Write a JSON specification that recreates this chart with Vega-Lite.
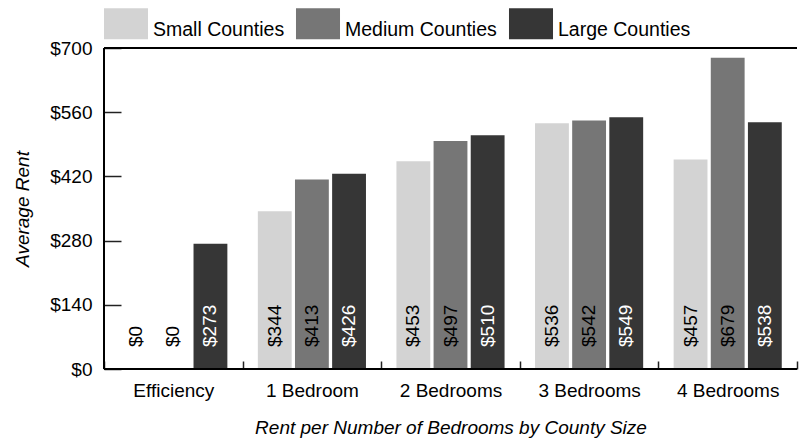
{
  "$schema": "https://vega.github.io/schema/vega-lite/v6.json",
  "width": 693,
  "height": 321,
  "autosize": {"type": "none"},
  "padding": {"left": 104, "top": 48, "right": 4, "bottom": 71},
  "background": "white",
  "config": {
    "font": "Liberation Sans",
    "view": {"stroke": null},
    "axis": {"labelFont": "Liberation Sans", "titleFont": "Liberation Sans", "labelColor": "#000", "titleColor": "#000", "grid": false},
    "legend": {"labelFont": "Liberation Sans"}
  },
  "data": {
    "values": [
      {"bedrooms": "Efficiency", "size": "Small Counties", "rent": 0},
      {"bedrooms": "Efficiency", "size": "Medium Counties", "rent": 0},
      {"bedrooms": "Efficiency", "size": "Large Counties", "rent": 273},
      {"bedrooms": "1 Bedroom", "size": "Small Counties", "rent": 344},
      {"bedrooms": "1 Bedroom", "size": "Medium Counties", "rent": 413},
      {"bedrooms": "1 Bedroom", "size": "Large Counties", "rent": 426},
      {"bedrooms": "2 Bedrooms", "size": "Small Counties", "rent": 453},
      {"bedrooms": "2 Bedrooms", "size": "Medium Counties", "rent": 497},
      {"bedrooms": "2 Bedrooms", "size": "Large Counties", "rent": 510},
      {"bedrooms": "3 Bedrooms", "size": "Small Counties", "rent": 536},
      {"bedrooms": "3 Bedrooms", "size": "Medium Counties", "rent": 542},
      {"bedrooms": "3 Bedrooms", "size": "Large Counties", "rent": 549},
      {"bedrooms": "4 Bedrooms", "size": "Small Counties", "rent": 457},
      {"bedrooms": "4 Bedrooms", "size": "Medium Counties", "rent": 679},
      {"bedrooms": "4 Bedrooms", "size": "Large Counties", "rent": 538}
    ]
  },
  "layer": [
    {
      "mark": {"type": "bar"},
      "encoding": {
        "x": {
          "field": "bedrooms",
          "type": "nominal",
          "sort": ["Efficiency", "1 Bedroom", "2 Bedrooms", "3 Bedrooms", "4 Bedrooms"],
          "scale": {"paddingInner": 0, "paddingOuter": 0},
          "title": "Rent per Number of Bedrooms by County Size",
          "axis": {
            "titleFontStyle": "italic",
            "titleFontWeight": "normal",
            "titleFontSize": 19,
            "titlePadding": 18,
            "labelAngle": 0,
            "labelFontSize": 19,
            "labelPadding": 12.5,
            "offset": -8,
            "domain": false,
            "ticks": true,
            "tickBand": "extent",
            "tickSize": 8,
            "tickWidth": 1.5,
            "tickColor": "#222"
          }
        },
        "xOffset": {
          "field": "size",
          "type": "nominal",
          "sort": ["Small Counties", "Medium Counties", "Large Counties"],
          "scale": {"paddingInner": 0.089, "paddingOuter": 0.41}
        },
        "y": {
          "field": "rent",
          "type": "quantitative",
          "scale": {"domain": [0, 700], "nice": false},
          "title": "Average Rent",
          "axis": {
            "values": [0, 140, 280, 420, 560, 700],
            "format": "$,.0f",
            "titleFontStyle": "italic",
            "titleFontWeight": "normal",
            "titleFontSize": 19,
            "titlePadding": 17,
            "labelFontSize": 19,
            "labelPadding": 12,
            "offset": -17,
            "domain": false,
            "ticks": true,
            "tickSize": 17,
            "tickWidth": 1.5,
            "tickColor": "#222"
          }
        },
        "color": {
          "field": "size",
          "type": "nominal",
          "scale": {"domain": ["Small Counties", "Medium Counties", "Large Counties"], "range": ["#d3d3d3", "#767676", "#363636"]},
          "legend": {
            "orient": "none",
            "legendX": 6.5,
            "legendY": -34.3,
            "direction": "horizontal",
            "title": null,
            "symbolType": "M-1.42,-1.37H1.42V0.63H-1.42Z",
            "symbolSize": 961,
            "symbolStrokeWidth": 0,
            "symbolOpacity": 1,
            "labelFontSize": 19.5,
            "labelColor": "#000",
            "labelOffset": 11.5,
            "columnPadding": 11
          }
        }
      }
    },
    {
      "mark": {"type": "text", "angle": 270, "align": "left", "baseline": "middle", "dx": 22, "fontSize": 19},
      "encoding": {
        "x": {"field": "bedrooms", "type": "nominal", "sort": ["Efficiency", "1 Bedroom", "2 Bedrooms", "3 Bedrooms", "4 Bedrooms"], "title": "Rent per Number of Bedrooms by County Size"},
        "xOffset": {"field": "size", "type": "nominal", "sort": ["Small Counties", "Medium Counties", "Large Counties"]},
        "y": {"datum": 0, "type": "quantitative", "title": "Average Rent"},
        "text": {"field": "rent", "type": "quantitative", "format": "$,.0f"},
        "color": {"condition": {"test": "datum.size === 'Large Counties'", "value": "#ffffff"}, "value": "#000000"}
      }
    },
    {
      "mark": {"type": "rule", "color": "#000", "strokeWidth": 1.5},
      "encoding": {"y": {"datum": 700, "type": "quantitative", "title": "Average Rent"}}
    },
    {
      "mark": {"type": "rule", "color": "#000", "strokeWidth": 1.5},
      "encoding": {"y": {"datum": 0, "type": "quantitative", "title": "Average Rent"}}
    },
    {
      "mark": {"type": "rule", "color": "#000", "strokeWidth": 1.5},
      "encoding": {"x": {"datum": "Efficiency", "type": "nominal", "bandPosition": 0, "title": "Rent per Number of Bedrooms by County Size"}}
    }
  ]
}
